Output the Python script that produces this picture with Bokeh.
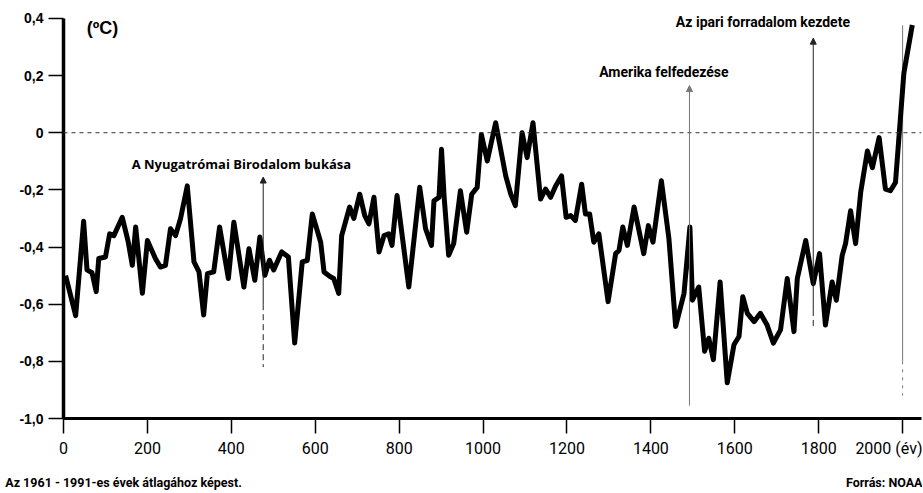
from bokeh.plotting import figure
from bokeh.models import (Range1d, FixedTicker, CustomJSTickFormatter, Label, Arrow,
                          NormalHead, Span, LinearAxis)
from bokeh.embed import file_html
from bokeh.resources import INLINE

# ---- data ----
years = [5, 29, 48, 56, 68, 78, 84, 100, 110, 120, 140, 154, 164, 172, 188, 200, 219, 231, 243,
         255, 267, 279, 295, 311, 323, 334, 343, 358, 372, 393, 406, 430, 442, 456, 468, 480,
         491, 501, 520, 536, 551, 569, 581, 593, 613, 621, 636, 644, 656, 663, 682, 692, 706,
         718, 728, 740, 752, 764, 775, 783, 795, 823, 849, 863, 877, 883, 895, 901, 907, 918,
         930, 946, 961, 973, 986, 996, 1010, 1030, 1054, 1066, 1077, 1093, 1105, 1119, 1137,
         1149, 1161, 1173, 1187, 1198, 1209, 1220, 1235, 1244, 1254, 1264, 1276, 1298, 1316,
         1324, 1333, 1344, 1360, 1383, 1394, 1405, 1425, 1443, 1459, 1479, 1493, 1499, 1514,
         1528, 1538, 1549, 1565, 1582, 1598, 1610, 1619, 1630, 1646, 1661, 1677, 1692, 1709,
         1725, 1741, 1749, 1769, 1787, 1802, 1816, 1832, 1842, 1856, 1864, 1876, 1888, 1900,
         1916, 1928, 1944, 1959, 1971, 1983, 2003, 2023]
anomaly = [-0.50, -0.64, -0.31, -0.48, -0.49, -0.556, -0.44, -0.435, -0.354, -0.36, -0.296,
           -0.38, -0.464, -0.33, -0.562, -0.377, -0.44, -0.47, -0.464, -0.336, -0.36, -0.30,
           -0.186, -0.452, -0.487, -0.638, -0.493, -0.487, -0.33, -0.51, -0.313, -0.54, -0.406,
           -0.516, -0.365, -0.499, -0.446, -0.48, -0.417, -0.435, -0.736, -0.452, -0.447,
           -0.284, -0.383, -0.487, -0.504, -0.51, -0.562, -0.36, -0.26, -0.30, -0.215, -0.29,
           -0.319, -0.226, -0.417, -0.36, -0.354, -0.394, -0.22, -0.54, -0.191, -0.336, -0.394,
           -0.238, -0.226, -0.058, -0.22, -0.429, -0.388, -0.203, -0.348, -0.215, -0.191,
           -0.006, -0.099, 0.035, -0.151, -0.215, -0.255, 0.0, -0.087, 0.035, -0.232, -0.197,
           -0.226, -0.186, -0.151, -0.296, -0.29, -0.307, -0.18, -0.284, -0.284, -0.383,
           -0.354, -0.591, -0.423, -0.412, -0.33, -0.394, -0.26, -0.423, -0.325, -0.383,
           -0.168, -0.371, -0.678, -0.562, -0.33, -0.586, -0.54, -0.765, -0.719, -0.794,
           -0.522, -0.875, -0.742, -0.713, -0.574, -0.632, -0.661, -0.632, -0.673, -0.736,
           -0.69, -0.51, -0.696, -0.51, -0.377, -0.528, -0.423, -0.673, -0.522, -0.586,
           -0.429, -0.388, -0.273, -0.388, -0.209, -0.064, -0.122, -0.017, -0.197, -0.203,
           -0.174, 0.209, 0.377]

x_ticks = [0, 200, 400, 600, 800, 1000, 1200, 1400, 1600, 1800, 2000]
y_ticks = [-1.0, -0.8, -0.6, -0.4, -0.2, 0.0, 0.2, 0.4]

event_years = [476, 1492, 1787]
event_labels = ["A Nyugatrómai Birodalom bukása", "Amerika felfedezése",
                "Az ipari forradalom kezdete"]

unit_label = "(ºC)"
footer_left = "Az 1961 - 1991-es évek átlagához képest."
footer_right = "Forrás: NOAA"

COND = "Roboto"

p = figure(width=922, height=492, output_backend="svg", toolbar_location=None,
           x_range=Range1d(0, 2045), y_range=Range1d(-1.0, 0.4348),
           min_border_left=63, min_border_right=1, min_border_top=8, min_border_bottom=72)
p.outline_line_color = None
p.xgrid.visible = False
p.ygrid.visible = False
p.background_fill_color = "white"

# axes
p.xaxis.ticker = FixedTicker(ticks=x_ticks)
p.xaxis.major_label_overrides = {2000: "2000 (év)"}
p.yaxis.ticker = FixedTicker(ticks=y_ticks)
p.yaxis.bounds = (-1.0, 0.4)
p.yaxis.formatter = CustomJSTickFormatter(
    code="if (Math.abs(tick) < 1e-9) { return '0'; } return tick.toFixed(1).replace('.', ',');")
for ax in (p.xaxis, p.yaxis):
    ax.axis_line_color = "black"
    ax.major_tick_line_color = "black"
    ax.major_tick_line_width = 1.5
    ax.major_tick_in = 0
    ax.major_tick_out = 15
    ax.minor_tick_line_color = None
    ax.major_label_text_color = "black"
    ax.major_label_standoff = 5
p.xaxis.axis_line_width = 3
p.yaxis.axis_line_width = 3.5
p.xaxis.major_label_text_font = COND
p.xaxis.major_label_text_font_size = "16px"
p.yaxis.major_label_text_font = "Liberation Sans"
p.yaxis.major_label_text_font_style = "bold"
p.yaxis.major_label_text_font_size = "14px"

# footer notes, drawn as a label-only axis under the x axis
footer_axis = LinearAxis(ticker=FixedTicker(ticks=[143, 2008]),
                         major_label_overrides={143: footer_left, 2008: footer_right},
                         axis_line_color=None, major_tick_line_color=None,
                         minor_tick_line_color=None, major_label_standoff=8,
                         major_label_text_font=COND, major_label_text_font_size="12.5px",
                         major_label_text_font_style="bold", major_label_text_color="black")
p.add_layout(footer_axis, "below")

# zero reference line
p.add_layout(Span(location=0, dimension="width", line_color="#333333", line_width=1,
                  line_dash="4 4"))

# 2000 marker line
p.segment(x0=[2000], y0=[0.376], x1=[2000], y1=[-0.80], line_color="#777777", line_width=1)
p.segment(x0=[2000], y0=[-0.80], x1=[2000], y1=[-0.92], line_color="#777777", line_width=1,
          line_dash="3 5")

# event arrows
arrow_tops = [-0.155, 0.165, 0.331]
arrow_bottoms = [-0.60, -0.955, -0.62]
dash_bottoms = [-0.82, -0.955, -0.68]
arrow_colors = ["#222222", "#777777", "#222222"]
for yr, top, bot, dbot, col in zip(event_years, arrow_tops, arrow_bottoms, dash_bottoms,
                                   arrow_colors):
    p.add_layout(Arrow(end=NormalHead(size=6, fill_color=col, line_color=col),
                       x_start=yr, y_start=bot, x_end=yr, y_end=top,
                       line_color=col, line_width=1))
    if dbot < bot:
        p.segment(x0=[yr], y0=[bot], x1=[yr], y1=[dbot], line_color=col, line_width=1,
                  line_dash="6 4")

# main temperature line
p.line(years, anomaly, line_color="black", line_width=5, line_join="round")

# event labels
label_pos = [(424, -0.11, "Open Sans", "13px"),
             (1431, 0.213, COND, "14px"),
             (1667, 0.387, COND, "14px")]
for (lx, ly, fnt, fs), txt in zip(label_pos, event_labels):
    p.add_layout(Label(x=lx, y=ly, text=txt, text_align="center", text_baseline="middle",
                       text_font=fnt, text_font_size=fs, text_font_style="bold",
                       text_color="black"))

p.add_layout(Label(x=93, y=0.366, text=unit_label, text_align="center",
                   text_baseline="middle", text_font="Liberation Sans",
                   text_font_size="18px", text_font_style="bold", text_color="black"))

open("out.html", "w").write(file_html(p, INLINE))
